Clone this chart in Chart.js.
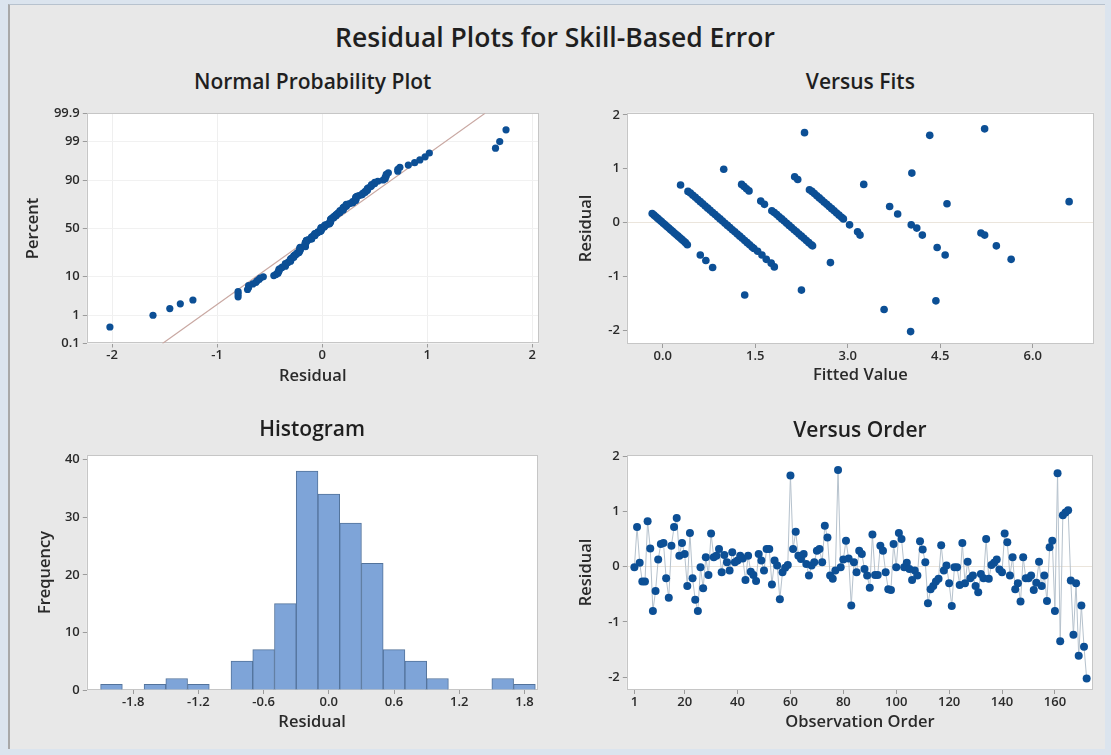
<!DOCTYPE html>
<html>
<head>
<meta charset="utf-8">
<title>Residual Plots for Skill-Based Error</title>
<script src="https://cdn.jsdelivr.net/npm/chart.js@4.4.1/dist/chart.umd.min.js"></script>
<style>
  html, body { margin: 0; padding: 0; }
  body { width: 1111px; height: 755px; background: #dbe4ee; position: relative; overflow: hidden;
         font-family: "Open Sans", "Noto Sans", sans-serif; }
  #panel { position: absolute; left: 8px; top: 4px; width: 1095px; height: 744px; background: #e8e8e8;
           border-left: 2px solid #a8a8a8; border-top: 1px solid #b7c2ce; }
  canvas { position: absolute; }
  .title { position: absolute; text-align: center; color: #1f1f1f; white-space: nowrap; }
</style>
</head>
<body>
<div id="panel"></div>
<script>
// ===== DATA =====
// residuals in observation order (1..172)
const residuals = [
  -0.01, 0.72, 0.07, -0.27, -0.27, 0.82, 0.33, -0.80, -0.44, 0.13,
  0.41, 0.43, -0.21, -0.56, 0.38, 0.72, 0.88, 0.20, 0.43, 0.23,
  -0.35, 0.61, -0.21, -0.60, -0.80, -0.01, -0.39, 0.17, -0.15, 0.60,
  0.17, 0.20, 0.32, -0.10, 0.21, 0.08, -0.07, 0.26, 0.08, 0.11,
  0.20, 0.15, -0.24, 0.20, -0.09, -0.15, -0.26, 0.23, 0.11, -0.07,
  0.32, 0.32, -0.32, 0.11, 0.02, -0.59, -0.10, -0.02, 0.03, 1.65,
  0.32, 0.63, 0.20, 0.14, 0.23, 0.05, -0.16, 0.02, 0.08, 0.29,
  0.32, 0.08, 0.74, 0.53, -0.16, -0.22, -0.07, 1.75,
  -0.01, 0.13, 0.47, 0.15, -0.70, 0.08, -0.10, 0.29, 0.23, -0.04,
  -0.16, -0.38, 0.58, -0.15, -0.15, 0.38, 0.29, -0.10, -0.41, -0.42,
  0.41, -0.01, 0.61, 0.50, -0.01, 0.07, -0.04, -0.24, -0.07, -0.16,
  0.46, 0.31, 0.08, -0.66, -0.41, -0.35, -0.27, -0.22, 0.39, -0.07, 0.02,
  -0.30, -0.71, -0.01, -0.01, -0.33, 0.43, -0.30, 0.09, -0.21, -0.16,
  -0.35, -0.46, -0.13, -0.21, 0.50, -0.22, 0.03, 0.07, 0.13, -0.05,
  -0.10, 0.60, 0.44, -0.16, 0.17, -0.41, -0.30, -0.63, 0.17, -0.21,
  -0.21, -0.16, -0.42, -0.29, 0.09, -0.35, -0.16, -0.62, 0.35, 0.47,
  -0.80, 1.69, -1.35, 0.93, 0.98, 1.02, -0.25, -1.23, -0.30, -1.61,
  -0.70, -1.45, -2.02
];

// versus fits: fitted value / residual pairs
const fitsX = [
  -0.17, -0.14, -0.11, -0.08, -0.05, -0.02, 0.01, 0.04, 0.07, 0.10, 0.13, 0.16, 0.19, 0.22, 0.25, 0.28, 0.31, 0.34, 0.37, 0.40,
  0.61, 0.70, 0.81, 1.33,
  0.29, 0.41, 0.45, 0.49, 0.53, 0.57, 0.61, 0.65, 0.69, 0.73, 0.77, 0.81, 0.85, 0.89, 0.93, 0.97, 1.01, 1.05, 1.09, 1.13,
  1.17, 1.21, 1.25, 1.29, 1.33, 1.37, 1.41, 1.45, 1.48,
  1.54, 1.61, 1.68, 1.76, 1.81, 2.25,
  0.99, 1.28, 1.32, 1.36, 1.40, 1.59, 1.65, 1.77, 1.81, 1.85, 1.89, 1.93, 1.97, 2.01, 2.05, 2.09, 2.13, 2.17, 2.21, 2.25,
  2.29, 2.33, 2.37, 2.41, 2.43,
  2.72, 3.59, 4.02,
  2.14, 2.19, 2.38, 2.42, 2.46, 2.50, 2.54, 2.58, 2.62, 2.66, 2.70, 2.74, 2.78, 2.82, 2.86, 2.90, 2.93, 3.03, 3.16, 3.20, 4.43,
  2.30, 3.26, 3.68, 3.81, 4.03, 4.12, 4.21, 4.45, 4.58,
  4.04, 4.61, 5.16, 5.22, 5.41, 5.65,
  4.33, 5.22, 6.59
];
const fitsY = [
  0.17, 0.14, 0.11, 0.08, 0.05, 0.02, -0.01, -0.04, -0.07, -0.10, -0.13, -0.16, -0.19, -0.22, -0.25, -0.28, -0.31, -0.34, -0.37, -0.41,
  -0.60, -0.70, -0.83, -1.34,
  0.70, 0.58, 0.55, 0.51, 0.47, 0.43, 0.39, 0.35, 0.31, 0.27, 0.23, 0.19, 0.15, 0.11, 0.07, 0.03, -0.01, -0.05, -0.09, -0.13,
  -0.17, -0.21, -0.25, -0.29, -0.33, -0.37, -0.41, -0.45, -0.48,
  -0.53, -0.60, -0.68, -0.75, -0.82, -1.25,
  0.99, 0.71, 0.67, 0.63, 0.59, 0.40, 0.34, 0.22, 0.19, 0.15, 0.11, 0.07, 0.03, -0.01, -0.05, -0.09, -0.13, -0.17, -0.21, -0.25,
  -0.29, -0.33, -0.37, -0.41, -0.43,
  -0.74, -1.61, -2.02,
  0.85, 0.80, 0.61, 0.58, 0.54, 0.50, 0.46, 0.42, 0.38, 0.34, 0.30, 0.26, 0.22, 0.18, 0.14, 0.10, 0.07, -0.04, -0.17, -0.23, -1.45,
  1.67, 0.71, 0.30, 0.16, -0.04, -0.10, -0.23, -0.46, -0.60,
  0.92, 0.35, -0.19, -0.23, -0.43, -0.68,
  1.62, 1.74, 0.39
];

// histogram: bin centres and counts
const histBins = [-2.0, -1.8, -1.6, -1.4, -1.2, -1.0, -0.8, -0.6, -0.4, -0.2, 0.0, 0.2, 0.4, 0.6, 0.8, 1.0, 1.2, 1.4, 1.6, 1.8];
const histCounts = [1, 0, 1, 2, 1, 0, 5, 7, 15, 38, 34, 29, 22, 7, 5, 2, 0, 0, 2, 1];

// fitted normal line of the probability plot (ends at 0.1% and 99.9%)
const nppLineX = [-1.52, 1.55];
const nppLinePct = [0.1, 99.9];

// tick labels
const pctTicks = [0.1, 1, 10, 50, 90, 99, 99.9];
const nppXTicks = [-2, -1, 0, 1, 2];
const fitsXTicks = [0, 1.5, 3, 4.5, 6];
const residTicks = [-2, -1, 0, 1, 2];
const histXTicks = [-1.8, -1.2, -0.6, 0, 0.6, 1.2, 1.8];
const histYTicks = [0, 10, 20, 30, 40];
const orderTicks = [1, 20, 40, 60, 80, 100, 120, 140, 160];

// ===== STYLE =====
const FAMILY = '"Open Sans", "Noto Sans", sans-serif';
const AXIS_FONT = { family: FAMILY, size: 16.5, weight: '600', lineHeight: 1.2 };
const TICK_FONT = { family: FAMILY, size: 13, weight: '600', lineHeight: 1.2 };
const LH = AXIS_FONT.size * 1.2;
const TEXT = '#2a2a2a';
const TICK_MARK = '#9c9c9c';
const DOT = '#0c4f95';
const NONE = 'rgba(0,0,0,0)';

// inverse normal CDF (Acklam), used for the probability axis
function probit(p) {
  const a = [-39.69683028665376, 220.9460984245205, -275.9285104469687, 138.3577518672690, -30.66479806614716, 2.506628277459239];
  const b = [-54.47609879822406, 161.5858368580409, -155.6989798598866, 66.80131188771972, -13.28068155288572];
  const c = [-0.007784894002430293, -0.3223964580411365, -2.400758277161838, -2.549732539343734, 4.374664141464968, 2.938163982698783];
  const d = [0.007784695709041462, 0.3224671290700398, 2.445134137142996, 3.754408661907416];
  const lo = 0.02425;
  if (p < lo || p > 1 - lo) {
    const q = Math.sqrt(-2 * Math.log(p < lo ? p : 1 - p));
    const v = (((((c[0] * q + c[1]) * q + c[2]) * q + c[3]) * q + c[4]) * q + c[5]) /
              ((((d[0] * q + d[1]) * q + d[2]) * q + d[3]) * q + 1);
    return p < lo ? v : -v;
  }
  const q = p - 0.5, r = q * q;
  return (((((a[0] * r + a[1]) * r + a[2]) * r + a[3]) * r + a[4]) * r + a[5]) * q /
         (((((b[0] * r + b[1]) * r + b[2]) * r + b[3]) * r + b[4]) * r + 1);
}

// white plot area with a grey frame
const plotFrame = {
  id: 'plotFrame',
  beforeDraw(chart) {
    const { ctx, chartArea: a } = chart;
    ctx.save();
    ctx.fillStyle = '#ffffff';
    ctx.fillRect(a.left, a.top, a.width, a.height);
    ctx.restore();
  },
  beforeDatasetsDraw(chart) {
    const { ctx, chartArea: a } = chart;
    ctx.save();
    ctx.strokeStyle = '#c6c6c6';
    ctx.lineWidth = 1;
    ctx.strokeRect(Math.round(a.left) + 0.5, Math.round(a.top) + 0.5, Math.round(a.width) - 1, Math.round(a.height) - 1);
    ctx.restore();
  }
};

function addText(text, cx, cy, size, weight) {
  const d = document.createElement('div');
  d.className = 'title';
  d.textContent = text;
  d.style.fontSize = size + 'px';
  d.style.fontWeight = weight;
  d.style.lineHeight = Math.round(size * 1.3) + 'px';
  d.style.width = '600px';
  d.style.left = (cx - 300) + 'px';
  d.style.top = (cy - size * 0.65) + 'px';
  document.body.appendChild(d);
}

function xScale(p, o) {
  return {
    type: 'linear', position: 'bottom', min: o.min, max: o.max, offset: false,
    afterBuildTicks: s => { s.ticks = o.ticks.map(v => ({ value: v })); },
    afterFit: s => { s.height = p.box.y + p.box.h - p.area.b; },
    grid: { color: o.grid || NONE, tickColor: TICK_MARK, tickLength: 4, offset: false },
    border: { display: false },
    ticks: { autoSkip: false, maxRotation: 0, padding: 0, color: TEXT, font: TICK_FONT, callback: o.label },
    title: { display: true, text: o.title, color: TEXT, font: AXIS_FONT,
             padding: { top: 0, bottom: p.box.y + p.box.h - p.xTitleY - LH / 2 } }
  };
}

function yScale(p, o) {
  return {
    type: 'linear', position: 'left', min: o.min, max: o.max,
    afterBuildTicks: s => { s.ticks = o.ticks.map(v => ({ value: v })); },
    afterFit: s => { s.width = p.area.l - p.box.x; },
    grid: { color: o.grid || NONE, tickColor: TICK_MARK, tickLength: 4 },
    border: { display: false },
    ticks: { autoSkip: false, padding: 3, color: TEXT, font: TICK_FONT, callback: o.label },
    title: { display: true, text: o.title, color: TEXT, font: AXIS_FONT,
             padding: { top: p.yTitleX - p.box.x - LH / 2, bottom: 0 } }
  };
}

function makePlot(p, type, datasets, scales) {
  const c = document.createElement('canvas');
  c.width = p.box.w; c.height = p.box.h;
  c.style.left = p.box.x + 'px'; c.style.top = p.box.y + 'px';
  document.body.appendChild(c);
  addText(p.title, (p.area.l + p.area.r) / 2, p.titleY, 21, 600);
  return new Chart(c, {
    type,
    data: { datasets },
    options: {
      responsive: false, animation: false, events: [],
      layout: { padding: { left: 0, top: p.area.t - p.box.y, right: p.box.x + p.box.w - p.area.r, bottom: 0 } },
      plugins: { legend: { display: false }, tooltip: { enabled: false } },
      scales
    },
    plugins: [plotFrame]
  });
}

// ===== LAYOUT =====
const npp   = { title: 'Normal Probability Plot', titleY: 82, box: { x: 0, y: 100, w: 556, h: 290 },
                area: { l: 86.8, t: 113.3, r: 538.6, b: 343.5 }, yTitleX: 33.3, xTitleY: 376.7 };
const fits  = { title: 'Versus Fits', titleY: 82, box: { x: 556, y: 100, w: 555, h: 290 },
                area: { l: 626.9, t: 112.7, r: 1093.8, b: 344 }, yTitleX: 586.7, xTitleY: 375.5 };
const hist  = { title: 'Histogram', titleY: 428.5, box: { x: 0, y: 440, w: 556, h: 300 },
                area: { l: 86.8, t: 455, r: 537.5, b: 690 }, yTitleX: 45, xTitleY: 722.7 };
const order = { title: 'Versus Order', titleY: 429.5, box: { x: 556, y: 440, w: 555, h: 300 },
                area: { l: 626.8, t: 455, r: 1093, b: 690 }, yTitleX: 586.4, xTitleY: 722.7 };

addText('Residual Plots for Skill-Based Error', 555, 37, 26.5, 600);

const zeroLine = ctx => (ctx.tick && ctx.tick.value === 0 ? '#ebe5dc' : NONE);

// ===== NORMAL PROBABILITY PLOT =====
const sortedRes = residuals.slice().sort((a, b) => a - b);
const nRes = sortedRes.length;
makePlot(npp, 'scatter', [
  {
    data: sortedRes.map((r, i) => ({ x: r, y: probit((i + 1 - 0.3) / (nRes + 0.4)) })),
    backgroundColor: DOT, borderColor: DOT, pointRadius: 3.6, pointBorderWidth: 0
  },
  {
    data: nppLineX.map((x, i) => ({ x, y: probit(nppLinePct[i] / 100) })),
    showLine: true, borderColor: '#c9a8a2', borderWidth: 1.2, pointRadius: 0
  }
], {
  x: xScale(npp, { min: -2.24, max: 2.06, ticks: nppXTicks, title: 'Residual', grid: '#efefef', label: v => String(v) }),
  y: yScale(npp, { min: probit(0.001), max: probit(0.999), ticks: pctTicks.map(t => probit(t / 100)),
                   title: 'Percent', grid: '#f1f1f1', label: (v, i) => String(pctTicks[i]) })
});

// ===== VERSUS FITS =====
makePlot(fits, 'scatter', [
  {
    data: fitsX.map((x, i) => ({ x, y: fitsY[i] })),
    backgroundColor: DOT, borderColor: DOT, pointRadius: 3.8, pointBorderWidth: 0
  }
], {
  x: xScale(fits, { min: -0.58, max: 6.99, ticks: fitsXTicks, title: 'Fitted Value', label: v => v.toFixed(1) }),
  y: yScale(fits, { min: -2.25, max: 2.04, ticks: residTicks, title: 'Residual', grid: zeroLine, label: v => String(v) })
});

// ===== HISTOGRAM =====
makePlot(hist, 'bar', [
  {
    data: histBins.map((b, i) => ({ x: b, y: histCounts[i] })),
    backgroundColor: '#7ea4d8', borderColor: '#53739b', borderWidth: 1,
    barPercentage: 1, categoryPercentage: 1
  }
], {
  x: xScale(hist, { min: -2.227, max: 1.92, ticks: histXTicks, title: 'Residual', label: v => v.toFixed(1) }),
  y: yScale(hist, { min: 0, max: 40.8, ticks: histYTicks, title: 'Frequency', label: v => String(v) })
});

// ===== VERSUS ORDER =====
makePlot(order, 'scatter', [
  {
    data: residuals.map((r, i) => ({ x: i + 1, y: r })),
    showLine: true, borderColor: '#b6c2cd', borderWidth: 1,
    pointBackgroundColor: DOT, pointBorderColor: DOT, pointRadius: 4, pointBorderWidth: 0
  }
], {
  x: xScale(order, { min: -1.87, max: 174.4, ticks: orderTicks, title: 'Observation Order', label: v => String(v) }),
  y: yScale(order, { min: -2.23, max: 2.02, ticks: residTicks, title: 'Residual', grid: zeroLine, label: v => String(v) })
});
</script>
</body>
</html>
